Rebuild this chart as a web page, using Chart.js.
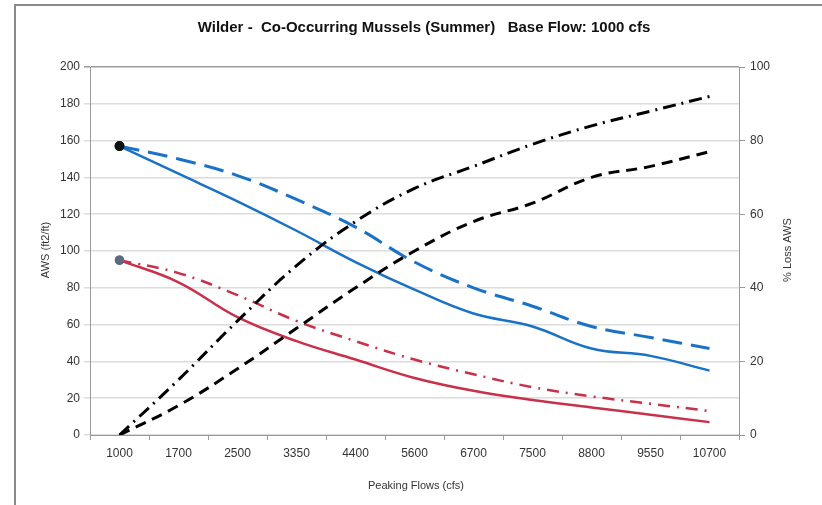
<!DOCTYPE html>
<html>
<head>
<meta charset="utf-8">
<script src="https://cdn.jsdelivr.net/npm/chart.js@4.4.0/dist/chart.umd.min.js"></script>
<style>
  html, body { margin: 0; padding: 0; background: #fff; }
  #wrap { position: absolute; left: 0; top: 0; width: 822px; height: 505px; }
  #frame { position: absolute; left: 14px; top: 4px; width: 808px; height: 501px;
           border-left: 2px solid #8a8a8a; border-top: 2px solid #8a8a8a; }
</style>
</head>
<body>
<div id="wrap">
  <div id="frame"></div>
  <canvas id="awsChart" width="822" height="505"></canvas>
</div>
<script>
const flows = ['1000', '1700', '2500', '3350', '4400', '5600', '6700', '7500', '8800', '9550', '10700'];
const blueSolid = [157, 142, 127, 111, 94, 79, 66, 59, 47, 43, 35];
const blueDashed = [157, 150, 141, 128, 113, 94, 80, 70, 59, 53, 47];
const redSolid = [95, 83, 64, 51, 41, 31, 24, 19, 15, 11, 7];
const redDashDot = [95, 88, 76, 62, 51, 41, 33, 26, 21, 17, 13];
const lossDashDot = [0, 15, 31, 46, 58, 67, 73, 79, 84, 88, 92];
const lossDashed = [0, 8, 18, 29, 40, 50, 58, 63, 70, 73, 77];

const blue = '#1a72c6';
const red = '#c9304a';
const firstOnly = [3.5, 0, 0, 0, 0, 0, 0, 0, 0, 0, 0];
const font = "'Liberation Sans', Arial, sans-serif";

// titles drawn by hand so the right one reads bottom-to-top like the original
const textPlugin = {
    id: 'texts',
    afterDraw(chart) {
        const ctx = chart.ctx;
        ctx.save();
        ctx.fillStyle = '#111';
        ctx.font = 'bold 15px ' + font;
        ctx.textAlign = 'center';
        ctx.textBaseline = 'middle';
        ctx.fillText('Wilder -  Co-Occurring Mussels (Summer)   Base Flow: 1000 cfs', 424, 28);

        ctx.fillStyle = '#333';
        ctx.font = '11px ' + font;
        ctx.fillText('Peaking Flows (cfs)', 416, 486);

        ctx.translate(46, 250);
        ctx.rotate(-Math.PI / 2);
        ctx.fillText('AWS (ft2/ft)', 0, 0);
        ctx.restore();

        ctx.save();
        ctx.fillStyle = '#333';
        ctx.font = '11px ' + font;
        ctx.textAlign = 'center';
        ctx.textBaseline = 'middle';
        ctx.translate(788, 250);
        ctx.rotate(-Math.PI / 2);
        ctx.fillText('% Loss AWS', 0, 0);
        ctx.restore();
    }
};

function lineSet(data, color, dash, axis, width, pointColor) {
    return {
        data: data,
        borderColor: color,
        borderWidth: width,
        borderDash: dash,
        yAxisID: axis,
        tension: 0.4,
        pointRadius: pointColor ? firstOnly : 0,
        pointBackgroundColor: pointColor,
        pointBorderColor: pointColor,
        fill: false
    };
}

new Chart('awsChart', {
    type: 'line',
    data: {
        labels: flows,
        datasets: [
            lineSet(lossDashDot, '#000', [13, 6, 2, 6], 'y2', 3),
            lineSet(lossDashed, '#000', [11, 7], 'y2', 3),
            lineSet(blueDashed, blue, [20, 9], 'y', 3, '#111'),
            lineSet(blueSolid, blue, [], 'y', 2.5, '#111'),
            lineSet(redDashDot, red, [12, 7, 2, 7], 'y', 2.5, '#5b6b82'),
            lineSet(redSolid, red, [], 'y', 2.5, '#5b6b82')
        ]
    },
    options: {
        responsive: false,
        animation: false,
        layout: { padding: { top: 67, left: 0, right: 0, bottom: 0 } },
        plugins: { legend: { display: false }, title: { display: false }, tooltip: { enabled: false } },
        scales: {
            x: {
                offset: true,
                afterFit: s => { s.height = 70; },
                grid: { offset: true, drawOnChartArea: false, color: '#999', tickLength: 5 },
                border: { color: '#999' },
                ticks: { color: '#333', font: { family: font, size: 12 }, padding: 6, maxRotation: 0 }
            },
            y: {
                position: 'left',
                min: 0, max: 200,
                afterFit: s => { s.width = 90; },
                grid: {
                    color: ctx => ctx.tick && ctx.tick.value === 200 ? '#9a9a9a' : '#dcdcdc',
                    lineWidth: 1.5,
                    tickLength: 6
                },
                border: { color: '#999' },
                ticks: { stepSize: 20, color: '#333', font: { family: font, size: 12 }, padding: 4 }
            },
            y2: {
                position: 'right',
                min: 0, max: 100,
                afterFit: s => { s.width = 83; },
                grid: { drawOnChartArea: false, color: '#999', tickLength: 6 },
                border: { color: '#999' },
                ticks: { stepSize: 20, color: '#333', font: { family: font, size: 12 }, padding: 5 }
            }
        }
    },
    plugins: [textPlugin]
});
</script>
</body>
</html>
